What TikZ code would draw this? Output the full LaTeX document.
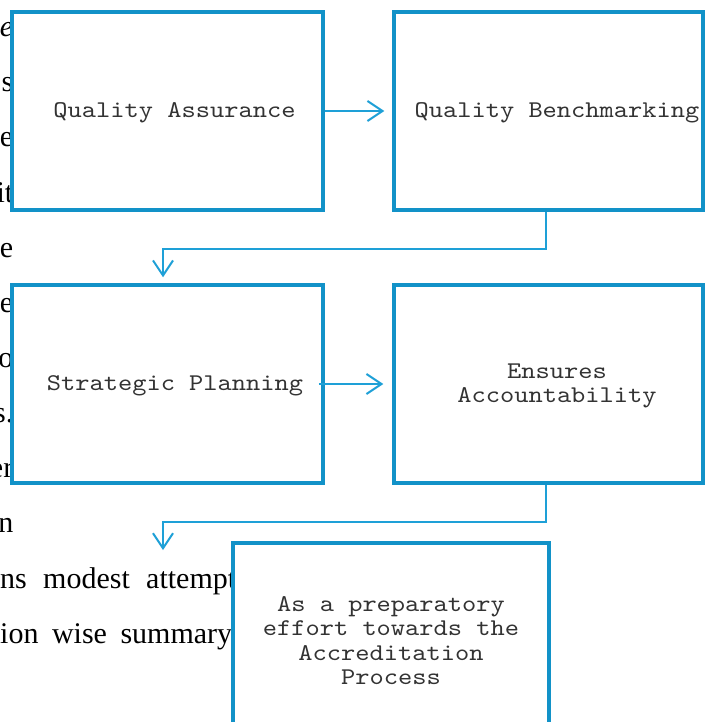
\documentclass[tikz,border=0pt]{standalone}
\usepackage{fontspec}
\setmainfont{Liberation Serif}
\newfontfamily\monofont[FakeStretch=1.13]{lmmono10-regular.otf}
\usetikzlibrary{arrows.meta}
\definecolor{boxcol}{RGB}{18,146,200}
\definecolor{linecol}{RGB}{30,160,215}
\begin{document}
\begin{tikzpicture}[x=1pt,y=-1pt,
  box/.style={draw=boxcol, line width=3.5pt, fill=white, rectangle, inner sep=0pt},
  lbl/.style={font=\monofont\fontsize{24}{24.5}\selectfont, align=center, text=black!80, inner sep=0pt},
  bg/.style={font=\fontsize{30}{36}\selectfont, anchor=base east, inner sep=0pt},
  bgl/.style={font=\fontsize{30}{36}\selectfont, anchor=base west, inner sep=0pt},
  conn/.style={draw=linecol, line width=2pt, -{Straight Barb[length=15pt,width=20pt]}}]
\useasboundingbox (0,0) rectangle (706,722);
\fill[white] (0,0) rectangle (706,722);
% background page text fragments
\node[bg] (f1) at (13.5,37) {\itshape e};
\node[bg] (f2) at (13.5,92) {s};
\node[bg] (f3) at (13.5,147) {e};
\node[bg] (f4) at (13.5,202) {it};
\node[bg] (f5) at (13.5,257) {e};
\node[bg] (f6) at (13.5,312) {e};
\node[bg] (f7) at (13.5,367) {o};
\node[bg] (f8) at (13.5,422) {s.};
\node[bg] (f9) at (13.5,477) {er};
\node[bg] (f10) at (13.5,532) {n};
\node[bgl] (f11) at (0,588) {\hbox to 236pt{ns\hfill modest\hfill attempt}};
\node[bgl] (f12) at (0,643) {\hbox to 232pt{ion\hfill wise\hfill summary}};
% boxes
\node[box, minimum width=311pt, minimum height=198pt] (b1) at (167.5,111) {};
\node[box, minimum width=309pt, minimum height=198pt] (b2) at (548.5,111) {};
\node[box, minimum width=311pt, minimum height=198pt] (b3) at (167.5,384) {};
\node[box, minimum width=309pt, minimum height=198pt] (b4) at (548.5,384) {};
\node[box, minimum width=316pt, minimum height=200pt] (b5) at (391,643) {};
% labels
\node[lbl] (t1) at (174.5,113) {Quality Assurance};
\node[lbl] (t2) at (557,113) {Quality Benchmarking};
\node[lbl] (t3) at (175,386) {Strategic Planning};
\node[lbl] (t4) at (557,386) {Ensures\\Accountability};
\node[lbl] (t5) at (391,640.5) {As a preparatory\\effort towards the\\Accreditation\\Process};
% connectors
\coordinate (e4) at (163,550);
\draw[conn] (b1.east) -- ([xshift=-8pt]b2.west);
\draw[conn] ([xshift=-2.5pt]b2.south) -- ++(0,37) -| ([xshift=-4.5pt,yshift=6pt]b3.north);
\draw[conn] ([xshift=-6pt]b3.east) -- ([xshift=-9pt]b4.west);
\draw[conn] ([xshift=-2.5pt]b4.south) -- ++(0,37) -| (e4);
\end{tikzpicture}
\end{document}
